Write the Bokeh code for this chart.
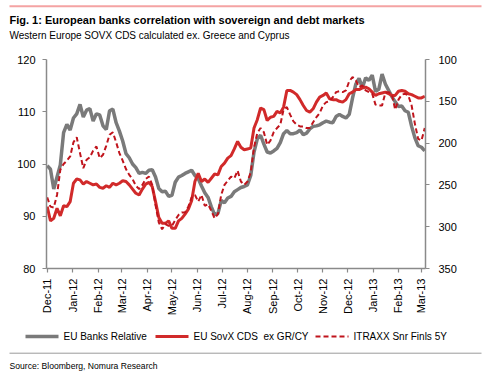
from datetime import datetime
from math import pi
import pandas as pd
from bokeh.plotting import figure
from bokeh.layouts import column, row
from bokeh.models import (Range1d, LinearAxis, FixedTicker, MonthsTicker, DatetimeTickFormatter,
                          ColumnDataSource)
from bokeh.core.properties import value
from bokeh.embed import file_html
from bokeh.resources import INLINE

banks_relative = [
    99.7, 99.0, 95.2, 97.5, 99.8, 106.0, 107.6, 106.5, 108.8, 109.6,
    111.4, 109.0, 110.3, 110.6, 108.2, 109.6, 109.4, 107.3, 106.6, 110.2,
    110.5, 107.9, 106.3, 104.4, 102.0, 101.2, 100.0, 99.3, 98.2, 98.4,
    98.2, 98.8, 98.9, 97.5, 95.3, 94.7, 94.8, 93.8, 94.0, 96.5,
    97.5, 97.8, 98.2, 98.5, 98.8, 97.8, 97.2, 95.8, 94.5, 93.6,
    91.8, 90.3, 90.5, 93.0, 92.6, 93.5, 93.8, 94.7, 95.1, 95.5,
    95.7, 96.0, 97.8, 102.3, 104.8, 105.5, 103.8, 102.3, 102.1, 102.5,
    103.0, 104.1, 105.8, 106.4, 105.8, 105.8, 106.0, 106.5, 105.6, 105.9,
    106.7, 107.2, 107.3, 107.5, 107.9, 108.2, 108.0, 107.9, 109.1, 109.5,
    109.1, 108.8, 109.5, 112.6, 115.3, 116.4, 114.6, 116.5, 116.0, 117.0,
    113.9, 114.3, 117.2, 115.3, 114.1, 112.9, 111.9, 111.0, 111.1, 110.2,
    109.9, 107.2, 105.0, 103.5, 103.2, 102.5,
]
sovx_cds = [
    276, 293, 290, 278, 287, 275, 276, 270, 248, 243,
    244, 249, 246, 248, 250, 249, 253, 254, 251, 253,
    248, 250, 248, 245, 246, 250, 255, 260, 262, 255,
    249, 247, 252, 270, 289, 296, 296, 293, 302, 302,
    293, 290, 285, 279, 269, 246, 236, 246, 243, 247,
    242, 237, 238, 228, 224, 218, 215, 207, 198, 205,
    208, 207, 206, 182, 172, 158, 160, 173, 169, 168,
    162, 164, 157, 137, 137, 139, 142, 148, 155, 161,
    163, 159, 151, 145, 143, 140, 147, 148, 148, 150,
    151, 148, 141, 139, 136, 136, 134, 133, 135, 139,
    143, 141, 140, 139, 141, 143, 143, 138, 137, 138,
    141, 142, 144, 146, 146, 144,
]
itraxx_snr_fin = [
    265, 276, 277, 262, 232, 225, 221, 216, 199, 193,
    212, 230, 220, 217, 209, 204, 218, 214, 203, 190,
    187, 199, 212, 221, 231, 238, 243, 251, 255, 250,
    243, 240, 250, 274, 295, 303, 297, 299, 299, 292,
    286, 283, 283, 276, 265, 262, 270, 262, 275, 273,
    281, 290, 285, 262, 250, 245, 240, 242, 233, 246,
    250, 246, 235, 205, 188, 182, 187, 202, 197, 187,
    182, 178, 160, 157, 166, 174, 178, 180, 180, 182,
    182, 175, 169, 164, 155, 151, 150, 145, 139, 138,
    139, 137, 126, 121, 125, 133, 131, 137, 139, 141,
    154, 155, 155, 140, 139, 142, 160, 148, 142, 141,
    143, 155, 177, 195, 197, 182,
]
dates = pd.date_range("2011-12-01", periods=len(banks_relative), freq="4D")

left_ticks = [80, 90, 100, 110, 120]
right_ticks = [100, 150, 200, 250, 300, 350]
series_labels = ["EU Banks Relative", "EU SovX CDS\u00a0 ex GR/CY", "ITRAXX Snr Finls 5Y"]
title_text = "Fig. 1: European banks correlation with sovereign and debt markets"
subtitle_text = "Western Europe SOVX CDS calculated ex. Greece and Cyprus"
source_text = "Source: Bloomberg, Nomura Research"

FONT = "Liberation Sans"
AXIS_GREY = "#8a8a8a"
GREY = "#7a7a7a"
RED = "#d12a2a"
DRED = "#c0141c"
W = 496

series_colors = [GREY, RED, DRED]
series_widths = [3.5, 3, 2]
series_dashes = ["solid", "solid", "5 3"]


def strip(height):
    f = figure(width=W, height=height, x_range=Range1d(0, W), y_range=Range1d(height, 0),
               output_backend="svg", toolbar_location=None,
               x_axis_location=None, y_axis_location=None,
               min_border=0, min_border_left=0, min_border_right=0, min_border_top=0,
               min_border_bottom=0)
    f.outline_line_color = None
    f.grid.visible = False
    f.background_fill_color = "white"
    f.border_fill_color = "white"
    return f


# ---------------- header (title + subtitle) ----------------
head = strip(48)
head.segment(x0=[9], y0=[5.7], x1=[481], y1=[5.7], line_color="#f4a3a3", line_width=2)
head.text(x=[9], y=[19.5], text=[title_text], text_font=value(FONT), text_font_size=value("11px"),
          text_font_style="bold", text_baseline="alphabetic", text_color="black")
head.text(x=[9], y=[35.3], text=[subtitle_text], text_font=value(FONT), text_font_size=value("10px"),
          text_baseline="alphabetic", text_color="black")

# ---------------- main chart ----------------
src = ColumnDataSource(dict(date=dates, banks=banks_relative, sovx=sovx_cds, itraxx=itraxx_snr_fin))

p = figure(width=W, height=275, x_axis_type="datetime",
           x_range=Range1d(datetime(2011, 11, 30, 4), datetime(2013, 3, 5, 22)),
           y_range=Range1d(80, 120), output_backend="svg", toolbar_location=None,
           min_border_left=46, min_border_right=71, min_border_top=11, min_border_bottom=55)
p.extra_y_ranges = {"cds": Range1d(350, 100)}
p.outline_line_color = None
p.xgrid.visible = False
p.ygrid.visible = False
p.background_fill_color = "white"
p.border_fill_color = "white"

ya = p.yaxis[0]
ya.ticker = FixedTicker(ticks=left_ticks)
ra = LinearAxis(y_range_name="cds", ticker=FixedTicker(ticks=right_ticks))
p.add_layout(ra, "right")
xa = p.xaxis[0]
xa.ticker = MonthsTicker(months=list(range(12)))
xa.formatter = DatetimeTickFormatter(months="%b-%y", days="%b-%y", years="%b-%y")
xa.major_label_orientation = pi / 2

for ax in (ya, ra, xa):
    ax.axis_line_color = AXIS_GREY
    ax.axis_line_width = 1.5
    ax.major_tick_line_color = AXIS_GREY
    ax.major_tick_line_width = 1.2
    ax.minor_tick_line_color = None
    ax.major_label_text_font = FONT
    ax.major_label_text_color = "black"
    ax.major_tick_out = 4
    ax.major_tick_in = 0
ya.major_label_text_font_size = "11px"
ya.major_label_standoff = 7
ra.major_label_text_font_size = "11px"
ra.major_label_standoff = 9
xa.major_label_text_font_size = "11px"
xa.major_label_standoff = 6

p.line("date", "banks", source=src, line_color=series_colors[0], line_width=series_widths[0],
       line_dash=series_dashes[0])
p.line("date", "sovx", source=src, y_range_name="cds", line_color=series_colors[1],
       line_width=series_widths[1], line_dash=series_dashes[1])
p.line("date", "itraxx", source=src, y_range_name="cds", line_color=series_colors[2],
       line_width=series_widths[2], line_dash=series_dashes[2])

# ---------------- footer (legend, rule, source) ----------------
foot = strip(52)
key_x0 = [25, 155, 315]
key_len = 33
key_y = 13
for i in range(3):
    foot.segment(x0=[key_x0[i]], y0=[key_y], x1=[key_x0[i] + key_len], y1=[key_y],
                 line_color=series_colors[i], line_width=series_widths[i], line_dash=series_dashes[i])
foot.text(x=[k + key_len + 5 for k in key_x0], y=[key_y] * 3, text=series_labels,
          text_font=value(FONT), text_font_size=value("10px"), text_baseline="middle",
          text_color="black")
foot.segment(x0=[9], y0=[29.7], x1=[481], y1=[29.7], line_color="#9a9a9a", line_width=1)
foot.text(x=[9], y=[42.5], text=[source_text], text_font=value(FONT), text_font_size=value("8.6px"),
          text_baseline="alphabetic", text_color="black")

# wrap each figure in its own row so the frames are not aligned with each other
layout = column(row(head), row(p), row(foot), spacing=0)
open("out.html", "w").write(file_html(layout, INLINE))
